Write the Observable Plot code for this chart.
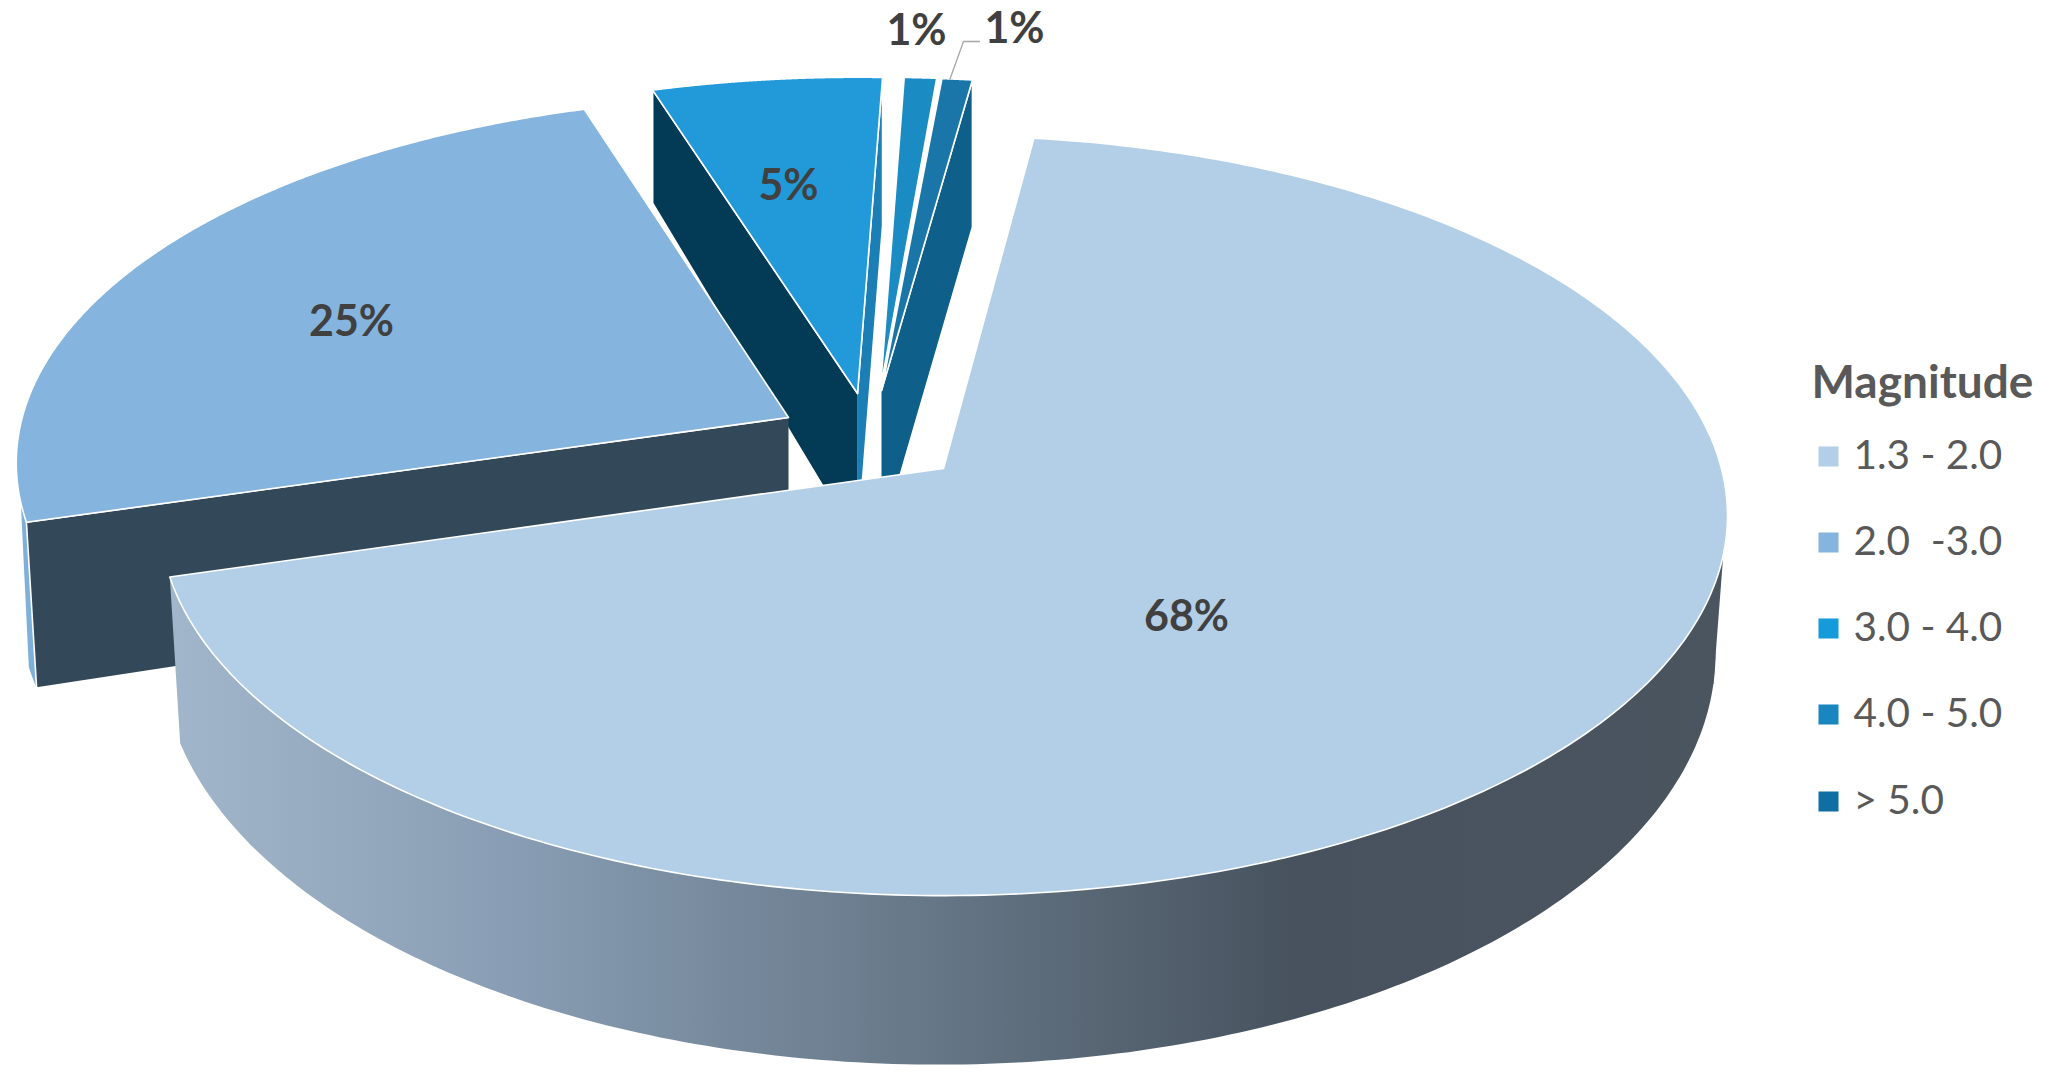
<!DOCTYPE html>
<html>
<head>
<meta charset="utf-8">
<script src="https://cdn.jsdelivr.net/npm/d3@7"></script>
<script src="https://cdn.jsdelivr.net/npm/@observablehq/plot@0.6"></script>
<style>html,body{margin:0;padding:0;background:#fff;overflow:hidden}svg{display:block}</style>
</head>
<body>
<div id="chart"></div>
<script>
// --- data ---
const legendTitle = "Magnitude";
const categories = ["1.3 - 2.0", "2.0  -3.0", "3.0 - 4.0", "4.0 - 5.0", "> 5.0"];
const shares = [68.4, 24.7, 5.4, 0.8, 0.7];
const topColors = ["#b3cfe8", "#85b5de", "#229ad9", "#1b8bc4", "#1a76a8"];
const legendColors = ["#b3cfe8", "#85b5de", "#159ada", "#1a86c0", "#0f6fa3"];

// --- pie layout: tilted-disc projection and explosion of each slice ---
const W = 2047, H = 1082;
const startAngle = 7.5;
const topDisc = {a: 784, b: 380, cy: 515, t: 0.124, dx: 0};
const baseDisc = {a: 777, b: 411, cy: 653, t: 0.066, dx: -5};
const apexes = [[943, 468], [788, 417], [857, 393], [880, 388], [881, 390]];
const scales = [1, 0.985, 0.95, 0.935, 0.94];
const scaleXTop = [1, 1, 1.04, 1, 1.07];
const scaleYTop = [1, 0.98, 1, 1, 1];
const labelAt = [[1186, 617], [351, 322], [788, 186], [916, 31], [1014, 29]];
const legendX = 1828, legendTextX = 1853, legendTitleX = 1811, legendTitleY = 383;
const legendRows = [456, 542, 628, 714, 801];

const total = d3.sum(shares);
const cum = d3.cumsum(shares);
const range = i => [startAngle + (i ? cum[i - 1] : 0) / total * 360, startAngle + cum[i] / total * 360];
const rad = d => d * Math.PI / 180;
function proj(disc, deg, r = 1) {
  const u = r * Math.sin(rad(deg)), v = r * Math.cos(rad(deg));
  const w = 1 + disc.t * v;
  return [r * disc.dx + disc.a * u * Math.sqrt(1 - disc.t * disc.t) / w, disc.cy - disc.b * (v + disc.t) / w];
}
const apexY = topDisc.cy - topDisc.b * topDisc.t;
function T(i, deg, r = 1) {
  const [x, y] = proj(topDisc, deg, r);
  return [apexes[i][0] + scales[i] * scaleXTop[i] * x, apexes[i][1] + scales[i] * scaleYTop[i] * (y - apexY)];
}
function B(i, deg, r = 1) {
  const [x, y] = proj(baseDisc, deg, r);
  return [apexes[i][0] + scales[i] * x, apexes[i][1] + scales[i] * (y - apexY)];
}
const arc = (f, i, a0, a1) => d3.range(0, 301).map(k => f(i, a0 + (a1 - a0) * k / 300));
const topFace = i => {
  const [a0, a1] = range(i);
  return [T(i, a0, 0), ...arc(T, i, a0, a1), T(i, a0, 0)];
};
const rimWall = (i, a0, a1) => [...arc(T, i, a0, a1), ...arc(B, i, a0, a1).reverse()];
const cutWall = (i, deg, rimDepth) => {
  const t = T(i, deg), b = rimDepth ? [t[0], t[1] + rimDepth] : B(i, deg);
  return [T(i, deg, 0), t, b, B(i, deg, 0)];
};

const edge = {stroke: "#fff", strokeWidth: 1.6, strokeLinejoin: "round"};
const poly = (pts, fill, opts = edge) =>
  Plot.line(pts, {x: d => d[0], y: d => d[1], curve: "linear", fill, ...opts});

const layers = [
  // 3.0 - 4.0
  poly(cutWall(2, range(2)[1], 148), "#1b7fb5"),
  poly(cutWall(2, range(2)[0], 113), "#033a55"),
  poly(topFace(2), topColors[2]),
  // 4.0 - 5.0
  poly(topFace(3), topColors[3]),
  // > 5.0
  poly(cutWall(4, range(4)[1], 147), "#0e5f8a"),
  poly(topFace(4), topColors[4]),
  // 2.0 - 3.0
  poly(rimWall(1, range(1)[0], range(1)[0] + 3), "#7fb0d9", {stroke: "none"}),
  poly(cutWall(1, range(1)[0]), "#33495a"),
  poly(topFace(1), topColors[1]),
  // 1.3 - 2.0
  poly(rimWall(0, ...range(0)), "url(#sideGradient)", {stroke: "none"}),
  poly([T(0, 103), B(0, 98), T(0, 120)], "url(#sideGradient)", {stroke: "none"}),
  poly(topFace(0), topColors[0])
];

const defs = () => {
  const d = d3.create("svg:defs");
  const g = d.append("linearGradient").attr("id", "sideGradient")
    .attr("gradientUnits", "userSpaceOnUse")
    .attr("x1", 170).attr("x2", 1730).attr("y1", 0).attr("y2", 0);
  [[0, "#a2b6cb"], [0.23, "#879cb2"], [0.48, "#677888"], [0.72, "#47525e"], [1, "#4a5560"]]
    .forEach(([o, c]) => g.append("stop").attr("offset", o).attr("stop-color", c));
  return d.node();
};

const labelRows = shares.map((s, i) => ({
  text: Math.round(s) + "%", x: labelAt[i][0], y: labelAt[i][1]
}));
const legendData = categories.map((c, i) => ({c, color: legendColors[i], y: legendRows[i]}));
const rim5 = T(4, d3.mean(range(4)) - 0.6);
const leader = [rim5, [963, 41], [979, 41]];

const plot = Plot.plot({
  width: W, height: H,
  margin: 0,
  x: {domain: [0, W], range: [0, W], axis: null},
  y: {domain: [0, H], range: [0, H], axis: null},
  style: {background: "#fff"},
  marks: [
    defs,
    ...layers,
    Plot.line(leader, {x: d => d[0], y: d => d[1], stroke: "#a6a6a6", strokeWidth: 1.3}),
    Plot.text(labelRows, {x: "x", y: "y", text: "text", fontFamily: "Lato", fontWeight: 700, fontSize: 43, fill: "#404040"}),
    Plot.text([legendTitle], {x: legendTitleX, y: legendTitleY, text: d => d, textAnchor: "start", fontFamily: "Lato", fontWeight: 700, fontSize: 46, fill: "#595959"}),
    Plot.dot(legendData, {x: legendX, y: "y", symbol: "square", r: 11.3, fill: d => d.color, stroke: "none"}),
    Plot.text(legendData, {x: legendTextX, y: "y", text: "c", textAnchor: "start", fontFamily: "Lato", fontSize: 40.5, fill: "#595959"})
  ]
});
document.getElementById("chart").append(plot);
</script>
</body>
</html>
